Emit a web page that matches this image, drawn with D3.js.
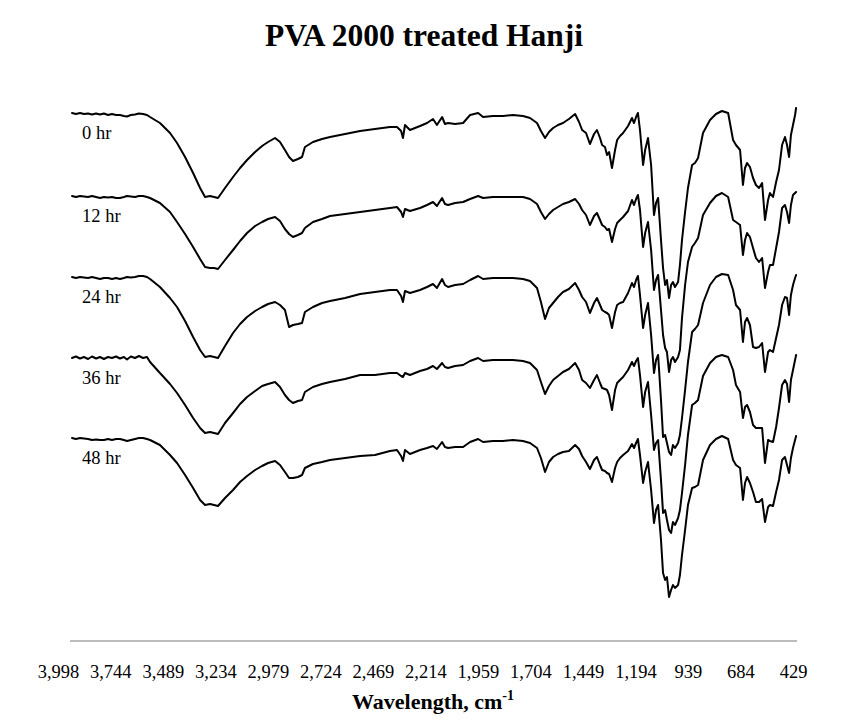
<!DOCTYPE html>
<html>
<head>
<meta charset="utf-8">
<script src="https://cdn.jsdelivr.net/npm/d3@7"></script>
<style>
  html, body { margin: 0; padding: 0; background: #fff; }
  svg { display: block; }
</style>
</head>
<body>
<svg id="chart" width="848" height="721"></svg>
<script>
// ---- Data (FTIR spectra, offset transmittance in arbitrary units) ----
const chartTitle = "PVA 2000 treated Hanji";
const seriesNames = ["0 hr", "12 hr", "24 hr", "36 hr", "48 hr"];
const tickLabels = [3998, 3744, 3489, 3234, 2979, 2724, 2469, 2214, 1959, 1704, 1449, 1194, 939, 684, 429];

const wavenumbers = [
  3930,3911,3891,3872,3852,3833,3813,3794,3775,3755,
  3736,3716,3697,3678,3663,3644,3624,3605,3585,3566,
  3551,3503,3454,3420,3381,3342,3308,3284,3260,3240,
  3221,3187,3148,3114,3080,3041,3007,2978,2944,2920,
  2896,2876,2857,2833,2813,2799,2760,2716,2677,2604,
  2531,2459,2386,2352,2332,2323,2313,2289,2240,2206,
  2177,2158,2133,2119,2104,2070,2031,1997,1958,1934,
  1886,1837,1789,1740,1706,1672,1653,1633,1614,1594,
  1570,1546,1517,1487,1468,1453,1434,1415,1395,1381,
  1366,1356,1342,1332,1322,1308,1293,1283,1269,1254,
  1230,1211,1201,1191,1182,1172,1157,1147,1133,1118,
  1104,1094,1084,1070,1060,1050,1041,1031,1021,1012,
  1002,987,978,968,953,939,919,905,890,866,
  832,803,774,744,720,706,686,672,662,652,
  638,623,609,594,579,565,550,541,526,511,
  497,482,468,458,448,439,429,419,414
];

const hr0 = [
  52.8,52.7,52.8,52.7,52.75,52.65,52.75,52.65,52.75,52.6,
  52.7,52.6,52.6,52.5,52.45,52.6,52.65,52.75,52.7,52.6,
  52.4,51.8,50.8,49.8,48.4,46.8,45.3,44.4,44.5,44.4,
  44.3,45.3,46.4,47.3,48.1,48.9,49.5,49.9,50.3,49.9,
  49.1,48.4,48.0,48.2,48.4,49.4,49.9,50.2,50.4,50.7,
  51.0,51.2,51.4,51.4,51.0,50.3,51.6,51.1,51.5,51.8,
  52.2,51.6,52.4,51.7,51.8,51.7,51.8,52.6,52.8,52.4,
  52.5,52.5,52.6,52.5,52.3,51.8,51.0,50.3,50.9,51.3,
  51.6,51.8,52.2,52.7,51.9,51.1,50.8,49.7,50.7,51.1,
  50.3,49.6,49.4,48.6,48.9,47.3,49.1,50.1,50.5,50.8,
  51.5,52.3,51.8,52.4,52.8,51.1,47.6,49.1,50.3,47.6,
  42.6,43.8,44.3,40.1,37.3,35.6,36.1,34.3,35.6,35.9,
  35.4,35.9,37.6,40.1,42.9,45.3,47.6,47.8,48.3,50.8,
  52.1,52.7,53.0,52.8,50.1,49.6,49.1,45.6,47.3,47.8,
  47.4,46.3,45.6,45.3,45.8,42.1,44.1,44.8,44.4,45.9,
  47.1,49.6,50.4,49.6,48.4,50.6,51.6,52.6,53.3
];

const hr12 = [
  44.5,44.4,44.5,44.45,44.4,44.5,44.4,44.3,44.4,44.35,
  44.4,44.3,44.3,44.4,44.5,44.45,44.4,44.5,44.5,44.4,
  44.3,43.8,42.9,41.9,40.7,39.4,38.2,37.4,37.3,37.3,
  37.2,38.1,39.1,40.0,40.8,41.5,41.9,42.2,42.4,42.0,
  41.2,40.7,40.4,40.6,40.8,41.3,41.9,42.2,42.5,42.7,
  42.9,43.1,43.3,43.4,42.9,42.4,43.2,43.0,43.3,43.6,
  43.9,43.5,44.3,43.7,43.6,43.8,43.9,44.2,44.5,44.3,
  44.4,44.4,44.4,44.4,44.2,43.7,42.9,42.2,42.7,43.1,
  43.4,43.7,43.9,44.2,43.7,43.1,42.6,41.6,42.5,42.8,
  42.1,41.6,41.4,41.1,41.2,39.9,41.2,41.8,42.1,42.4,
  43.0,44.1,43.6,44.2,44.6,43.1,39.4,40.8,41.9,39.1,
  35.1,36.1,36.6,33.1,30.6,29.3,28.9,26.9,28.1,28.4,
  27.9,28.4,29.1,32.3,35.6,37.9,39.4,39.8,40.3,42.6,
  43.8,44.5,44.8,44.4,42.1,41.9,41.6,38.6,40.1,40.8,
  40.4,39.3,38.3,37.9,38.3,35.3,36.9,37.6,37.6,39.3,
  40.9,43.3,43.6,42.9,41.8,43.6,44.6,44.8,44.9
];

const hr24 = [
  36.4,36.3,36.4,36.35,36.3,36.4,36.3,36.2,36.3,36.3,
  36.2,36.3,36.2,36.3,36.4,36.35,36.4,36.5,36.5,36.4,
  36.2,35.4,34.3,33.4,32.0,30.4,29.1,28.4,28.5,28.4,
  28.3,29.5,30.8,31.7,32.4,33.0,33.4,33.7,33.9,33.6,
  33.1,31.4,31.6,31.7,31.8,32.9,33.4,33.8,34.0,34.3,
  34.7,34.9,35.1,35.1,34.5,33.9,35.0,34.8,35.1,35.4,
  35.7,35.3,36.2,35.6,35.4,35.6,35.7,36.1,36.5,36.2,
  36.3,36.3,36.3,36.2,36.0,35.3,33.9,32.2,33.3,33.8,
  34.4,34.9,35.2,35.8,35.1,34.4,33.9,32.8,33.8,34.3,
  33.6,33.1,32.9,32.8,32.6,31.3,32.9,33.6,33.8,33.9,
  34.8,35.8,35.4,36.1,36.5,34.6,31.3,32.6,33.8,30.6,
  26.8,28.1,28.6,24.1,20.4,20.6,19.8,18.9,18.6,19.6,
  19.3,19.8,20.6,22.3,25.1,27.9,30.9,31.2,31.6,33.8,
  35.6,36.4,36.7,36.6,35.1,33.6,33.1,29.9,31.9,32.3,
  31.6,29.4,29.3,29.4,29.8,26.9,28.9,29.1,28.9,30.3,
  31.6,33.6,34.4,34.3,32.6,34.6,35.6,36.3,36.6
];

const hr36 = [
  28.3,28.45,28.25,28.4,28.2,28.45,28.25,28.4,28.2,28.4,
  28.3,28.45,28.25,28.4,28.15,28.45,28.3,28.5,28.3,28.4,
  27.9,26.8,25.7,24.8,23.6,22.3,21.3,20.8,20.9,20.8,
  20.7,21.8,22.8,23.7,24.4,25.0,25.5,25.7,25.9,25.4,
  24.6,24.1,23.8,24.0,24.1,24.9,25.4,25.7,25.9,26.2,
  26.6,26.6,26.8,26.8,26.5,26.4,26.8,26.6,27.0,27.2,
  27.5,27.2,27.8,27.4,27.3,27.5,27.6,28.0,28.3,28.0,
  28.1,28.1,28.1,28.0,27.8,27.1,25.9,24.7,25.5,26.1,
  26.5,26.9,27.2,27.8,27.1,26.1,25.8,25.3,26.1,26.6,
  25.8,25.3,25.2,25.1,24.6,23.1,25.1,25.8,26.1,26.4,
  27.1,27.9,27.5,28.0,28.3,26.6,23.4,24.9,25.9,22.6,
  19.1,19.8,20.1,16.1,12.8,13.1,12.1,11.1,10.8,11.9,
  11.6,12.3,13.1,14.8,17.6,20.6,23.6,23.8,24.1,26.5,
  27.8,28.4,28.6,28.4,27.1,25.6,24.9,22.3,23.4,23.6,
  22.9,21.6,21.3,21.3,21.3,17.8,20.1,20.0,19.9,21.4,
  23.3,25.6,26.1,25.7,23.9,26.1,27.1,28.1,28.6
];

const hr48 = [
  20.3,20.2,20.3,20.25,20.2,20.1,20.15,20.1,20.1,20.2,
  20.1,20.2,20.2,20.1,20.0,20.1,20.2,20.3,20.3,20.2,
  20.1,19.6,18.6,17.8,16.6,15.3,14.1,13.6,13.7,13.6,
  13.5,14.3,15.1,15.9,16.5,17.1,17.5,17.8,18.0,17.6,
  16.9,16.3,16.3,16.4,16.6,17.3,17.7,17.9,18.1,18.3,
  18.5,18.6,19.0,19.1,18.5,18.0,19.1,18.7,19.1,19.3,
  19.5,19.2,19.9,19.4,19.3,19.4,19.4,19.9,20.2,19.9,
  20.0,20.0,20.1,20.0,19.8,19.3,18.3,16.9,17.9,18.4,
  18.7,18.9,19.0,19.6,19.2,18.5,17.9,17.2,18.1,18.4,
  17.6,17.1,17.0,16.8,16.7,15.9,17.3,17.9,18.3,18.6,
  19.0,19.7,19.3,19.8,20.2,18.6,15.8,16.9,17.9,15.1,
  11.8,13.1,13.6,10.1,6.8,6.1,6.4,4.4,5.1,5.6,
  5.3,5.6,6.6,8.6,11.1,13.6,15.3,15.4,15.6,18.1,
  19.6,20.2,20.5,20.2,18.1,17.6,17.3,14.1,15.8,16.4,
  15.8,14.9,13.9,13.9,14.2,11.9,13.4,13.6,13.5,14.9,
  16.1,18.1,18.4,17.6,16.8,18.3,19.3,20.1,20.5
];

const seriesValues = [hr0, hr12, hr24, hr36, hr48];

// ---- Drawing ----
const svg = d3.select("#chart");
const W = 848, H = 721;
svg.append("rect").attr("width", W).attr("height", H).attr("fill", "#fff");

const x = d3.scaleLinear().domain([3998, 429]).range([58, 793]);
const y = d3.scaleLinear().domain([0, 54]).range([641, 101]);

const serif = "'Liberation Serif', 'Times New Roman', serif";

// Title
svg.append("text")
  .attr("x", 424).attr("y", 46)
  .attr("text-anchor", "middle")
  .attr("font-family", serif)
  .attr("font-weight", "bold")
  .attr("font-size", 31.5)
  .attr("fill", "#000")
  .text(chartTitle);

// Baseline of the plot area
const xMin = d3.max(wavenumbers), xMax = d3.min(wavenumbers);
svg.append("line")
  .attr("x1", x(xMin) - 2).attr("x2", x(xMax) + 1)
  .attr("y1", y(0)).attr("y2", y(0))
  .attr("stroke", "#a6a6a6").attr("stroke-width", 1.5);

// X axis labels
const axis = d3.axisBottom(x)
  .tickValues(tickLabels)
  .tickFormat(d3.format(","))
  .tickSize(0)
  .tickPadding(24);
const gAxis = svg.append("g").attr("transform", `translate(0,${y(0)})`).call(axis);
gAxis.select(".domain").remove();
gAxis.selectAll("text")
  .attr("font-family", serif)
  .attr("font-size", 18.5)
  .attr("fill", "#000");

// X axis title
const xt = svg.append("text")
  .attr("x", 433).attr("y", 709)
  .attr("text-anchor", "middle")
  .attr("font-family", serif)
  .attr("font-weight", "bold")
  .attr("font-size", 22)
  .attr("fill", "#000");
xt.append("tspan").text("Wavelength, cm");
xt.append("tspan").attr("dy", -9).attr("font-size", 14).text("-1");

// Series lines
const line = d3.line()
  .x((d, i) => x(wavenumbers[i]))
  .y(d => y(d))
  .curve(d3.curveLinear);

seriesValues.forEach((vals, k) => {
  if (vals.length !== wavenumbers.length) {
    svg.append("text").attr("x", 10).attr("y", 20 + k * 14).attr("fill", "red")
      .text(`length mismatch ${seriesNames[k]}: ${vals.length} vs ${wavenumbers.length}`);
  }
  svg.append("path")
    .datum(vals)
    .attr("d", line)
    .attr("fill", "none")
    .attr("stroke", "#000")
    .attr("stroke-width", 2)
    .attr("stroke-linejoin", "round")
    .attr("stroke-linecap", "round");

  svg.append("text")
    .attr("x", 82)
    .attr("y", y(vals[0]) + 26)
    .attr("font-family", serif)
    .attr("font-size", 18.5)
    .attr("fill", "#000")
    .text(seriesNames[k]);
});
</script>
</body>
</html>
